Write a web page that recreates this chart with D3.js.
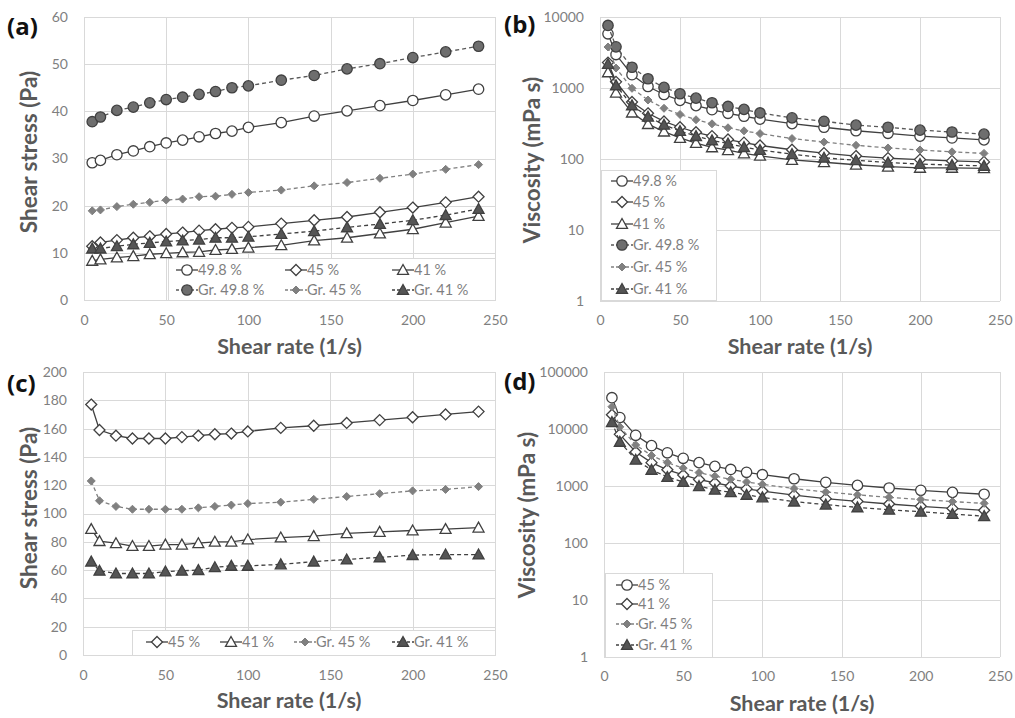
<!DOCTYPE html>
<html>
<head>
<meta charset="utf-8">
<script src="https://cdn.jsdelivr.net/npm/d3@7/dist/d3.min.js"></script>
<style>
  html, body { margin: 0; padding: 0; background: #fff; }
  svg { display: block; font-family: Lato, "Open Sans", sans-serif; }
</style>
</head>
<body>
<svg id="chart" width="1015" height="718"></svg>
<script>
// Shear rates (1/s) shared by every series
const rate = [5, 10, 20, 30, 40, 50, 60, 70, 80, 90, 100, 120, 140, 160, 180, 200, 220, 240];

// (a) shear stress (Pa)
const a_49_8   = [29.1, 29.6, 30.8, 31.6, 32.5, 33.3, 33.9, 34.6, 35.3, 35.8, 36.6, 37.6, 39.0, 40.1, 41.2, 42.3, 43.5, 44.7];
const a_45     = [11.4, 12.2, 12.7, 13.2, 13.5, 14.0, 14.3, 14.7, 15.0, 15.3, 15.5, 16.2, 16.9, 17.6, 18.6, 19.6, 20.7, 21.9];
const a_41     = [8.3, 8.6, 9.0, 9.3, 9.7, 9.9, 10.1, 10.2, 10.6, 10.8, 11.1, 11.6, 12.6, 13.2, 14.1, 15.0, 16.4, 17.8];
const a_gr49_8 = [37.8, 38.8, 40.2, 40.9, 41.8, 42.5, 43.0, 43.6, 44.2, 45.0, 45.4, 46.6, 47.6, 49.0, 50.1, 51.4, 52.6, 53.8];
const a_gr45   = [18.9, 19.1, 19.8, 20.3, 20.7, 21.2, 21.4, 21.9, 22.0, 22.4, 22.8, 23.3, 24.2, 24.9, 25.8, 26.7, 27.7, 28.7];
const a_gr41   = [10.9, 10.9, 11.4, 11.8, 12.1, 12.4, 12.6, 12.8, 13.2, 13.2, 13.4, 14.0, 14.6, 15.4, 16.1, 16.9, 18.0, 19.3];

// (b) viscosity (mPa s)
const b_49_8   = [5800, 2960, 1540, 1050, 810, 670, 565, 495, 440, 400, 365, 315, 280, 250, 230, 210, 198, 186];
const b_45     = [2280, 1220, 635, 440, 338, 280, 238, 210, 188, 170, 155, 135, 121, 110, 103, 98, 94, 91];
const b_41     = [1660, 860, 450, 310, 243, 198, 168, 146, 133, 120, 111, 97, 90, 83, 78, 75, 75, 74];
const b_gr49_8 = [7600, 3800, 1960, 1350, 1020, 830, 720, 620, 550, 500, 445, 380, 340, 300, 280, 255, 240, 224];
const b_gr45   = [3780, 1910, 990, 677, 518, 424, 357, 313, 275, 249, 228, 194, 173, 156, 143, 134, 126, 120];
const b_gr41   = [2180, 1090, 570, 393, 303, 248, 210, 183, 165, 147, 134, 117, 104, 96, 89, 85, 82, 80];

// (c) shear stress (Pa)
const c_45   = [177, 159, 155, 153, 153, 153, 154, 155, 156, 156.5, 158, 160.5, 162, 164, 166, 168, 170, 172];
const c_41   = [89, 80.5, 79, 77, 77, 78, 78, 79, 80, 80, 81.6, 83, 84, 86, 87, 88, 89, 90];
const c_gr45 = [123, 109, 105, 103, 103, 103, 103, 104, 105, 106, 107, 108, 110, 112, 114, 116, 117, 119];
const c_gr41 = [66, 59.5, 57.6, 57.6, 57.6, 59, 59.5, 60, 62, 63, 63, 64, 66, 67.5, 69, 70.6, 71, 71];

// (d) viscosity (mPa s)
const d_45   = [35400, 15900, 7750, 5100, 3825, 3060, 2570, 2210, 1950, 1740, 1580, 1340, 1160, 1025, 922, 840, 773, 717];
const d_41   = [17800, 8050, 3950, 2570, 1925, 1560, 1300, 1130, 1000, 890, 816, 692, 600, 538, 483, 440, 405, 375];
const d_gr45 = [24600, 10900, 5250, 3430, 2575, 2060, 1717, 1486, 1313, 1178, 1070, 900, 786, 700, 633, 580, 532, 496];
const d_gr41 = [13200, 5950, 2880, 1920, 1440, 1180, 992, 857, 775, 700, 630, 533, 471, 422, 383, 353, 323, 296];

// Tick values
const xTicks = [0, 50, 100, 150, 200, 250];
const aTicks = [0, 10, 20, 30, 40, 50, 60];
const cTicks = [0, 20, 40, 60, 80, 100, 120, 140, 160, 180, 200];
const bTicks = [1, 10, 100, 1000, 10000];
const dTicks = [1, 10, 100, 1000, 10000, 100000];

// Marker / line styles
const DARK = "#404040";
const styles = {
  openCircle:  { shape: "circle",   fill: "#fff",    stroke: DARK, dash: null, line: DARK },
  openDiamond: { shape: "diamond",  fill: "#fff",    stroke: DARK, dash: null, line: DARK },
  openTri:     { shape: "triangle", fill: "#fff",    stroke: DARK, dash: null, line: DARK },
  grCircle:    { shape: "circle",   fill: "#6e6e6e", stroke: DARK, dash: "4,3", line: "#595959" },
  grDiamond:   { shape: "sdiamond", fill: "#808080", stroke: "#808080", dash: "4,3", line: "#808080" },
  grTri:       { shape: "triangle", fill: "#555",    stroke: DARK, dash: "4,3", line: DARK }
};

const svg = d3.select("#chart");

function drawMarker(g, st, x, y) {
  if (st.shape === "circle") {
    g.append("circle").attr("cx", x).attr("cy", y).attr("r", 5.2)
      .attr("fill", st.fill).attr("stroke", st.stroke).attr("stroke-width", 1.3);
  } else if (st.shape === "diamond") {
    const s = 5.5;
    g.append("path").attr("d", `M${x},${y - s}L${x + s},${y}L${x},${y + s}L${x - s},${y}Z`)
      .attr("fill", st.fill).attr("stroke", st.stroke).attr("stroke-width", 1.3);
  } else if (st.shape === "sdiamond") {
    const s = 4;
    g.append("path").attr("d", `M${x},${y - s}L${x + s},${y}L${x},${y + s}L${x - s},${y}Z`)
      .attr("fill", st.fill).attr("stroke", st.stroke).attr("stroke-width", 1);
  } else {
    const s = 5.5;
    g.append("path").attr("d", `M${x},${y - s}L${x + s},${y + s * 0.8}L${x - s},${y + s * 0.8}Z`)
      .attr("fill", st.fill).attr("stroke", st.stroke).attr("stroke-width", 1.3);
  }
}

function panel(cfg) {
  const g = svg.append("g");
  const x = d3.scaleLinear().domain([0, 250]).range([cfg.x0, cfg.x1]);
  const y = (cfg.log ? d3.scaleLog() : d3.scaleLinear())
    .domain(cfg.yDomain).range([cfg.yBot, cfg.yTop]);

  // gridlines
  g.append("g").selectAll("line").data(cfg.yTicks).join("line")
    .attr("x1", cfg.x0).attr("x2", cfg.x1)
    .attr("y1", d => Math.round(y(d)) + 0.5).attr("y2", d => Math.round(y(d)) + 0.5)
    .attr("stroke", "#d9d9d9").attr("stroke-width", 1);
  g.append("g").selectAll("line").data(xTicks).join("line")
    .attr("y1", cfg.yTop).attr("y2", cfg.yBot)
    .attr("x1", d => Math.round(x(d)) + 0.5).attr("x2", d => Math.round(x(d)) + 0.5)
    .attr("stroke", "#d9d9d9").attr("stroke-width", 1);

  // axes (labels only, Excel style)
  const fmt = d => String(d);
  const xAxis = g.append("g").attr("transform", `translate(0,${cfg.yBot})`)
    .call(d3.axisBottom(x).tickValues(xTicks).tickFormat(fmt).tickSize(0).tickPadding(cfg.xPad));
  const yAxis = g.append("g").attr("transform", `translate(${cfg.x0},0)`)
    .call(d3.axisLeft(y).tickValues(cfg.yTicks).tickFormat(fmt).tickSize(0).tickPadding(16));
  [xAxis, yAxis].forEach(a => {
    a.select(".domain").remove();
    a.selectAll("text").attr("fill", "#7f7f7f").style("font-size", "14px")
      .style("font-family", "Lato, sans-serif");
  });
  xAxis.selectAll("text").attr("dy", "0.32em");

  // legend box (under the data)
  const L = cfg.legend;
  g.append("rect").attr("x", L.x + 0.5).attr("y", L.y + 0.5).attr("width", L.w).attr("height", L.h)
    .attr("fill", "#fff").attr("stroke", "#d9d9d9");

  // series
  const line = d3.line().x(d => x(d[0])).y(d => y(d[1]));
  cfg.series.forEach(s => {
    const st = styles[s.style];
    const pts = rate.map((r, i) => [r, s.values[i]]);
    g.append("path").datum(pts).attr("d", line).attr("fill", "none")
      .attr("stroke", st.line).attr("stroke-width", 1.3)
      .attr("stroke-dasharray", st.dash);
    const mg = g.append("g");
    pts.forEach(p => drawMarker(mg, st, x(p[0]), y(p[1])));
  });

  // legend entries
  cfg.series.forEach((s, i) => {
    const st = styles[s.style];
    const pos = L.pos[i];
    g.append("line").attr("x1", pos[0]).attr("x2", pos[0] + 22).attr("y1", pos[1]).attr("y2", pos[1])
      .attr("stroke", st.line).attr("stroke-width", 1.3).attr("stroke-dasharray", st.dash ? "3,2" : null);
    drawMarker(g, st, pos[0] + 11, pos[1]);
    g.append("text").attr("x", pos[0] + 22).attr("y", pos[1]).attr("dy", "0.35em")
      .attr("fill", "#7f7f7f").style("font-size", "14.5px").text(s.name);
  });

  // axis titles
  g.append("text").attr("x", (cfg.x0 + cfg.x1) / 2).attr("y", cfg.xTitleY)
    .attr("text-anchor", "middle").attr("fill", "#595959")
    .style("font-size", "21.5px").style("font-weight", "bold").text("Shear rate (1/s)");
  g.append("text").attr("transform", `translate(${cfg.yTitleX},${cfg.yTitleY}) rotate(-90)`)
    .attr("text-anchor", "middle").attr("fill", "#595959")
    .style("font-size", "22.5px").style("font-weight", "bold").text(cfg.yTitle);

  // panel letter
  g.append("text").attr("x", cfg.labelX).attr("y", cfg.labelY)
    .attr("fill", "#111").style("font-size", "24px").style("font-weight", "bold")
    .style("font-family", "'Open Sans', sans-serif").text(cfg.label);
}

panel({
  label: "(a)", labelX: 7, labelY: 35,
  x0: 84, x1: 495, yTop: 17, yBot: 300, yDomain: [0, 60], yTicks: aTicks, xPad: 21,
  yTitle: "Shear stress (Pa)", yTitleX: 37, yTitleY: 152, xTitleY: 354,
  legend: { x: 168, y: 258, w: 327, h: 42,
    pos: [[176, 270], [285, 270], [392, 270], [176, 290], [285, 290], [392, 290]] },
  series: [
    { name: "49.8 %", values: a_49_8, style: "openCircle" },
    { name: "45 %", values: a_45, style: "openDiamond" },
    { name: "41 %", values: a_41, style: "openTri" },
    { name: "Gr. 49.8 %", values: a_gr49_8, style: "grCircle" },
    { name: "Gr. 45 %", values: a_gr45, style: "grDiamond" },
    { name: "Gr. 41 %", values: a_gr41, style: "grTri" }
  ]
});

panel({
  label: "(b)", labelX: 504, labelY: 33, log: true,
  x0: 600, x1: 1000, yTop: 17, yBot: 301, yDomain: [1, 10000], yTicks: bTicks, xPad: 20,
  yTitle: "Viscosity (mPa s)", yTitleX: 540, yTitleY: 160, xTitleY: 354,
  legend: { x: 601, y: 170, w: 115, h: 130,
    pos: [[611, 181], [611, 202], [611, 224], [611, 245], [611, 267], [611, 289]] },
  series: [
    { name: "49.8 %", values: b_49_8, style: "openCircle" },
    { name: "45 %", values: b_45, style: "openDiamond" },
    { name: "41 %", values: b_41, style: "openTri" },
    { name: "Gr. 49.8 %", values: b_gr49_8, style: "grCircle" },
    { name: "Gr. 45 %", values: b_gr45, style: "grDiamond" },
    { name: "Gr. 41 %", values: b_gr41, style: "grTri" }
  ]
});

panel({
  label: "(c)", labelX: 7, labelY: 392,
  x0: 83, x1: 495, yTop: 372, yBot: 655, yDomain: [0, 200], yTicks: cTicks, xPad: 21,
  yTitle: "Shear stress (Pa)", yTitleX: 37, yTitleY: 508, xTitleY: 708,
  legend: { x: 132, y: 630, w: 363, h: 25,
    pos: [[146, 642], [220, 642], [294, 642], [392, 642]] },
  series: [
    { name: "45 %", values: c_45, style: "openDiamond" },
    { name: "41 %", values: c_41, style: "openTri" },
    { name: "Gr. 45 %", values: c_gr45, style: "grDiamond" },
    { name: "Gr. 41 %", values: c_gr41, style: "grTri" }
  ]
});

panel({
  label: "(d)", labelX: 504, labelY: 390, log: true,
  x0: 604, x1: 1000, yTop: 372, yBot: 657, yDomain: [1, 100000], yTicks: dTicks, xPad: 20,
  yTitle: "Viscosity (mPa s)", yTitleX: 535, yTitleY: 515, xTitleY: 711,
  legend: { x: 605, y: 573, w: 107, h: 84,
    pos: [[616, 585], [616, 604], [616, 624], [616, 645]] },
  series: [
    { name: "45 %", values: d_45, style: "openCircle" },
    { name: "41 %", values: d_41, style: "openDiamond" },
    { name: "Gr. 45 %", values: d_gr45, style: "grDiamond" },
    { name: "Gr. 41 %", values: d_gr41, style: "grTri" }
  ]
});
</script>
</body>
</html>
